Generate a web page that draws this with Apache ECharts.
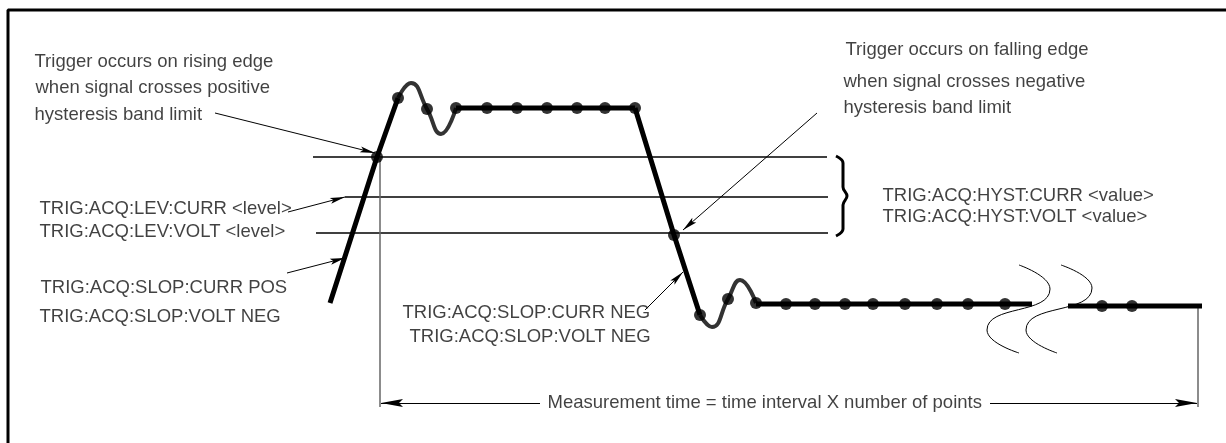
<!DOCTYPE html>
<html>
<head>
<meta charset="utf-8">
<script src="https://cdn.jsdelivr.net/npm/echarts@6/dist/echarts.min.js"></script>
<style>
  html, body { margin: 0; padding: 0; background: #fff; }
  #trigger { width: 1226px; height: 443px; }
</style>
</head>
<body>
<div id="trigger"></div>
<script>
// diagram units: x = time axis (0..1226), y = drawing height (0..443, top down)
const riseEdge = [[330, 303], [377, 157], [398, 98]];
const overshoot = [[398, 98], [411, 83], [427, 109], [441, 134], [456, 108]];
const highLevel = [[456, 108], [635, 108]];
const fallEdge = [[635, 108], [674, 235], [700, 315]];
const undershoot = [[700, 315], [712, 327], [728, 299], [740, 280], [756, 303]];
const lowLevelA = [[756, 304], [1032, 304]];
const lowLevelB = [[1068, 306], [1202, 306]];
const samples = [
  [377, 157], [398, 98], [427, 109], [456, 108], [487, 108], [517, 108], [547, 108],
  [577, 108], [605, 108], [635, 108], [674, 235], [700, 315], [728, 299], [756, 303],
  [786, 304], [815, 304], [845, 304], [873, 304], [905, 304], [937, 304], [968, 304],
  [1005, 304], [1102, 306], [1132, 306]
];

const hystHigh = [[313, 157], [827, 157]];
const levelLine = [[345, 197], [828, 197]];
const hystLow = [[316, 233], [828, 233]];
const startMark = [[380, 157], [380, 407]];
const endMark = [[1198, 307], [1198, 407]];
const frame = [[8, 443], [8, 10], [1226, 10]];
const brace = [[836, 156], [843, 163], [843, 187], [847, 196], [843, 205], [843, 229], [836, 236]];
const breakA = [[1019, 265], [1050, 289], [987, 330], [1019, 353]];
const breakB = [[1061, 265], [1092, 288], [1026, 330], [1057, 353]];

const pointers = [
  [[215, 113], [375, 153]],
  [[288, 212], [345, 197]],
  [[287, 273], [345, 258]],
  [[817, 113], [683, 230]],
  [[645, 310], [683, 272]]
];
const spanArrows = [
  [[540, 403], [381, 403]],
  [[990, 403], [1197, 403]]
];

const noteText = [
  'Trigger occurs on rising edge', 'when signal crosses positive', 'hysteresis band limit',
  'TRIG:ACQ:LEV:CURR <level>', 'TRIG:ACQ:LEV:VOLT <level>',
  'TRIG:ACQ:SLOP:CURR POS', 'TRIG:ACQ:SLOP:VOLT NEG',
  'Trigger occurs on falling edge', 'when signal crosses negative', 'hysteresis band limit',
  'TRIG:ACQ:HYST:CURR <value>', 'TRIG:ACQ:HYST:VOLT <value>',
  'TRIG:ACQ:SLOP:CURR NEG', 'TRIG:ACQ:SLOP:VOLT NEG',
  'Measurement time = time interval X number of points'
];
const noteX = [35, 36, 35, 40, 40, 41, 40, 846, 844, 844, 883, 883, 403, 410, 548];
const noteY = [62, 88, 115, 209, 232, 288, 317, 50, 82, 108, 196, 217, 313, 337, 403];

let chart = echarts.init(document.getElementById('trigger'))

function path(data, width, color, extra) {
  return Object.assign({
    type: 'line',
    data: data,
    showSymbol: false,
    symbol: 'none',
    silent: true,
    lineStyle: { width: width, color: color },
    z: 2
  }, extra || {})
}

chart.setOption({
  animation: false,
  grid: { left: 0, right: 0, top: 0, bottom: 0 },
  xAxis: { type: 'value', min: 0, max: 1226, show: false },
  yAxis: { type: 'value', min: 0, max: 443, inverse: true, show: false },
  series: [
    path(frame, 3, '#000'),
    path(hystHigh, 1.4, '#000'),
    path(levelLine, 1.4, '#000'),
    path(hystLow, 1.4, '#000'),
    path(startMark, 1.5, '#666'),
    path(endMark, 1.5, '#666'),
    path(brace, 3, '#000', { smooth: 0.4 }),
    path(breakA, 1, '#000', { smooth: 0.6 }),
    path(breakB, 1, '#000', { smooth: 0.6 }),
    path(riseEdge, 5, '#000', { z: 4 }),
    path(overshoot, 4, '#333', { smooth: 0.5, z: 4 }),
    path(highLevel, 5, '#000', { z: 4 }),
    path(fallEdge, 5, '#000', { z: 4 }),
    path(undershoot, 4, '#333', { smooth: 0.5, z: 4 }),
    path(lowLevelA, 5, '#000', { z: 4 }),
    path(lowLevelB, 5, '#000', { z: 4 }),
    {
      type: 'scatter',
      data: samples,
      symbol: 'circle',
      symbolSize: 12,
      silent: true,
      itemStyle: { color: '#000' },
      z: 5
    },
    {
      type: 'lines',
      coordinateSystem: 'cartesian2d',
      silent: true,
      symbol: ['none', 'path://M0,0 M30,30 M15,15 L18,30 L15,27 L12,30 Z'],
      symbolSize: 30,
      lineStyle: { width: 1, color: '#000', opacity: 1 },
      data: pointers.map(c => ({ coords: c })),
      z: 3
    },
    {
      type: 'lines',
      coordinateSystem: 'cartesian2d',
      silent: true,
      symbol: ['none', 'path://M0,0 M44,44 M22,22 L26,44 L22,40 L18,44 Z'],
      symbolSize: 44,
      lineStyle: { width: 1.2, color: '#000', opacity: 1 },
      data: spanArrows.map(c => ({ coords: c })),
      z: 3
    },
    {
      type: 'scatter',
      silent: true,
      symbolSize: 1,
      itemStyle: { color: 'transparent' },
      data: noteText.map((t, i) => ({ name: t, value: [noteX[i], noteY[i]] })),
      label: {
        show: true,
        position: [0, 0],
        align: 'left',
        verticalAlign: 'middle',
        formatter: p => p.name,
        fontFamily: 'Liberation Sans, Arial, sans-serif',
        fontSize: 18.5,
        color: '#111'
      },
      z: 6
    }
  ]
})
</script>
</body>
</html>
